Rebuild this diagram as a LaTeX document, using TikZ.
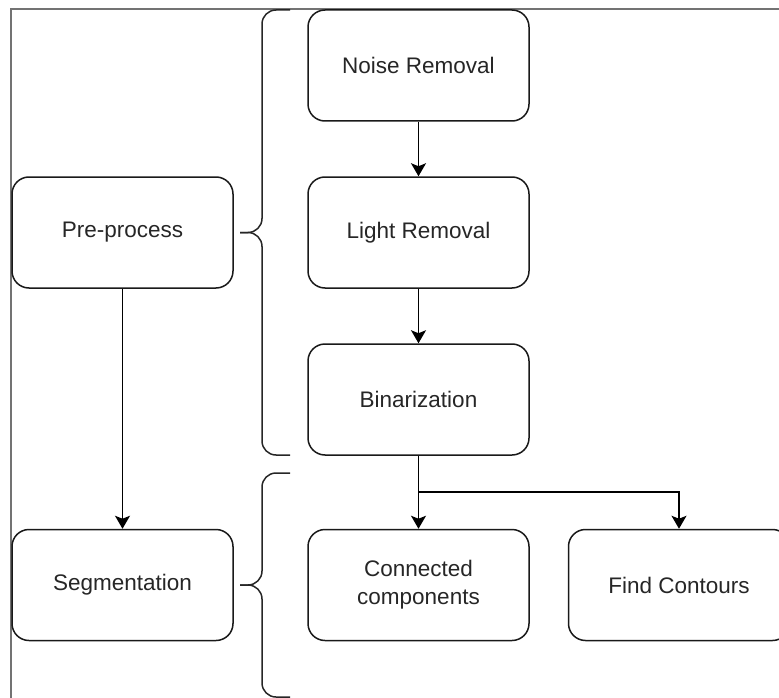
\documentclass[tikz,border=0pt]{standalone}
\usepackage{fontspec}
\setmainfont{Liberation Sans}
\usetikzlibrary{arrows.meta}
\begin{document}
\begin{tikzpicture}[x=1pt,y=-1pt,
  stepbox/.style={draw=black!90, line width=1.5pt, rounded corners=17pt, minimum width=221pt, minimum height=111pt, align=center, inner sep=0pt, font=\fontsize{22.5}{28}\selectfont, text=black!85},
  arr/.style={draw=black, line width=1.5pt, -{Stealth[length=13pt,width=15pt,inset=3pt]}},
  bracepath/.style={draw=black!85, line width=1.5pt, rounded corners=14pt},
  frame/.style={draw=black!55, line width=1.8pt}]
\useasboundingbox (0,0) rectangle (779,698);
\draw[frame] (11,698) -- (11,9) -- (779,9);
\node[stepbox] (pre) at (122.5,232.5) {Pre-process};
\node[stepbox] (seg) at (122.5,585) {Segmentation};
\node[stepbox] (noise) at (418.5,65.5) {Noise Removal};
\node[stepbox] (light) at (418.5,232.5) {Light Removal};
\node[stepbox] (bin) at (418.5,399.5) {Binarization};
\node[stepbox] (cc) at (418.5,585) {Connected\\components};
\node[stepbox] (fc) at (679,585) {Find Contours};
\coordinate (t1) at (240,232.5);
\coordinate (t2) at (240,585);
\draw[bracepath] (290,10) -- (262,10) -- (262,232.5) -- (t1);
\draw[bracepath] (290,455) -- (262,455) -- (262,232.5) -- (t1);
\draw[bracepath] (290,473) -- (262,473) -- (262,585) -- (t2);
\draw[bracepath] (290,697) -- (262,697) -- (262,585) -- (t2);
\draw[arr] (pre) -- (seg);
\draw[arr] (noise) -- (light);
\draw[arr] (light) -- (bin);
\draw[arr] (bin) -- (cc);
\coordinate (br) at (418.5,492);
\draw[arr] (br) -| (fc);
\end{tikzpicture}
\end{document}
